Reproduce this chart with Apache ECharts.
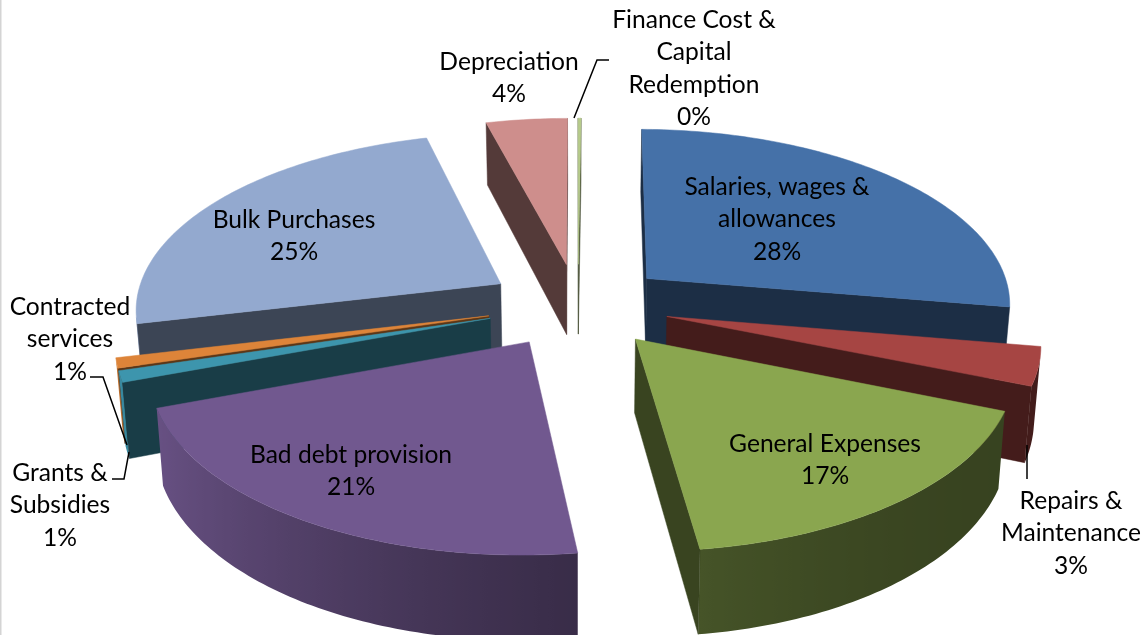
<!DOCTYPE html>
<html>
<head>
<meta charset="utf-8">
<style>html,body{margin:0;padding:0;background:#fff}#c{width:1147px;height:635px}</style>
<script src="https://cdn.jsdelivr.net/npm/echarts@6/dist/echarts.min.js"></script>
</head>
<body>
<div id="c"></div>
<script>
// ---- data ----
const categories = ['Salaries, wages &\nallowances','Repairs &\nMaintenance','General Expenses','Bad debt provision','Grants &\nSubsidies','Contracted\nservices','Bulk Purchases','Depreciation','Finance Cost &\nCapital\nRedemption'];
const seriesValues = [27.5, 3.45, 16.85, 21.49, 1.0, 0.9, 24.52, 4.14, 0.15];
const sliceColors = ['#4571a8','#a64543','#8aa64f','#71588f','#3d95ad','#dd8439','#93a9cf','#ce8e8c','#b6cb8a'];
// ---- label layout: [centre x, first-line centre y] ----
const labelAt = [[777,187],[1071,501],[825,444],[351,455],[60,473],[70,307],[294,220],[509,62],[694,20]];
const leaders = [
  [[574,118],[597,60],[609,60]],
  [[90,377],[103,377],[127,445]],
  [[112,479],[124,479],[129,452]],
  [[1027,445],[1027,479]]
];
// ---- projection ----
const G = {cx:578, cy:305, A:366, B:175, p:0.13, explodeU:0.25, explodeV:0.24, h:72, bottomScale:0.985, rot:0.5*Math.PI/180};
const total = seriesValues.reduce((a,b)=>a+b,0);
const TAU = Math.PI*2;

function proj(u,v,bottom){
  const s = 1/(1-G.p*v);
  let x = G.cx + G.A*u*s, y = G.cy + G.B*v*s;
  if(bottom){ x = G.cx + (x-G.cx)*G.bottomScale; y += G.h*s; }
  return [x,y];
}
function rgb(hex){ return [1,3,5].map(i=>parseInt(hex.substr(i,2),16)); }
function shade(hex,f){ return 'rgb('+rgb(hex).map(c=>Math.round(c*f)).join(',')+')'; }
function sideFactor(t){ const lit=(1-Math.sin(t))/2; return 0.40+0.55*lit*lit; }
function area(q){ let a=0; for(let i=0;i<q.length;i++){const m=q[i],n=q[(i+1)%q.length];a+=m[0]*n[1]-n[0]*m[1];} return a; }

let acc = 0;
const sliceRows = seriesValues.map((v,i)=>{ const row=[i,acc/total,(acc+v)/total]; acc+=v; return row; });
// painter's order: far slices first
sliceRows.sort((a,b)=>(-Math.cos(TAU*(a[1]+a[2])/2))-(-Math.cos(TAU*(b[1]+b[2])/2)));

function renderSlice(params,api){
  const i=api.value(0), ts=api.value(1)*TAU+G.rot, te=api.value(2)*TAU+G.rot, mid=(ts+te)/2, col=sliceColors[i];
  const ou=G.explodeU*Math.sin(mid), ov=-G.explodeV*Math.cos(mid);
  const n=Math.max(2,Math.ceil((te-ts)/(Math.PI/180)));
  const angs=[]; for(let k=0;k<=n;k++) angs.push(ts+(te-ts)*k/n);
  const rimUV=t=>[ou+Math.sin(t),ov-Math.cos(t)];
  const top=angs.map(t=>{const r=rimUV(t);return proj(r[0],r[1],false);});
  const bot=angs.map(t=>{const r=rimUV(t);return proj(r[0],r[1],true);});
  const apT=proj(ou,ov,false), apB=proj(ou,ov,true);
  const children=[];
  // outer wall: visible segments only
  let first=-1,last=-1;
  for(let k=0;k<n;k++){
    if(area([top[k],top[k+1],bot[k+1],bot[k]])<0){ if(first<0) first=k; last=k+1; }
  }
  if(first>=0){
    const pts=top.slice(first,last+1).concat(bot.slice(first,last+1).reverse());
    const xs=top.slice(first,last+1).map(p=>p[0]);
    const xmin=Math.min.apply(null,xs), xmax=Math.max.apply(null,xs);
    let fill, stroke=shade(col,sideFactor((angs[first]+angs[last])/2));
    if(xmax-xmin>2){
      const stops=[];
      for(let k=first;k<=last;k++) stops.push({offset:(top[k][0]-xmin)/(xmax-xmin),color:shade(col,sideFactor(angs[k]))});
      stops.sort((a,b)=>a.offset-b.offset);
      fill=new echarts.graphic.LinearGradient(xmin,0,xmax,0,stops,true);
    } else fill=stroke;
    children.push({type:'polygon',shape:{points:pts},style:{fill:fill,stroke:xmax-xmin>2?null:stroke,lineWidth:0.5}});
  }
  // cut walls
  const walls=[[apT,top[0],bot[0],apB],[top[n],apT,apB,bot[n]]];
  walls.forEach(q=>{
    if(area(q)<0) children.push({type:'polygon',shape:{points:q},style:{fill:shade(col,0.41),stroke:shade(col,0.41),lineWidth:0.5}});
  });
  // top face
  children.push({type:'polygon',shape:{points:[apT].concat(top)},style:{fill:col,stroke:col,lineWidth:0.5}});
  return {type:'group',children:children};
}

const textEls=categories.map((c,i)=>{
  const pct=Math.round(seriesValues[i]/total*100)+'%';
  const lines=c.split('\n').concat(pct);
  return lines.map((ln,k)=>({
    type:'text',z:100,silent:true,x:labelAt[i][0],y:labelAt[i][1]+k*32.4,
    style:{text:ln,fill:'#000',font:'24.6px Lato',align:'center',verticalAlign:'middle'}
  }));
}).reduce((a,b)=>a.concat(b),[]);
const leaderEls=leaders.map(p=>({type:'polyline',z:99,silent:true,shape:{points:p},style:{stroke:'#000',lineWidth:1.5,fill:null}}));
const borderEl={type:'line',z:98,silent:true,shape:{x1:0.5,y1:0,x2:0.5,y2:635},style:{stroke:'#d4d4d4',lineWidth:2}};

const chart=echarts.init(document.getElementById('c'),null,{renderer:'canvas'});
chart.setOption({
  animation:false,
  backgroundColor:'#ffffff',
  graphic:{elements:[borderEl].concat(leaderEls,textEls)},
  series:[{type:'custom',coordinateSystem:'none',silent:true,renderItem:renderSlice,data:sliceRows,clip:false}]
});
</script>
</body>
</html>
